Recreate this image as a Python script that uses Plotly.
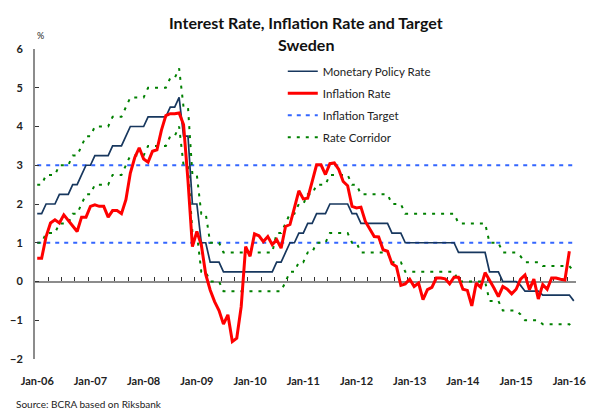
import plotly.graph_objects as go

# ---------------- data (monthly, Jan-2006 onward) ----------------
policy_rate = [
    1.75, 1.75, 2.00, 2.00, 2.00, 2.25, 2.25, 2.25, 2.50, 2.50, 2.75, 3.00,   # 2006
    3.00, 3.25, 3.25, 3.25, 3.25, 3.50, 3.50, 3.50, 3.75, 4.00, 4.00, 4.00,   # 2007
    4.00, 4.25, 4.25, 4.25, 4.25, 4.25, 4.50, 4.50, 4.75, 3.75, 3.75, 2.00,   # 2008
    2.00, 1.00, 1.00, 0.50, 0.50, 0.50, 0.25, 0.25, 0.25, 0.25, 0.25, 0.25,   # 2009
    0.25, 0.25, 0.25, 0.25, 0.25, 0.25, 0.50, 0.50, 0.75, 1.00, 1.00, 1.25,   # 2010
    1.25, 1.50, 1.50, 1.75, 1.75, 1.75, 2.00, 2.00, 2.00, 2.00, 2.00, 1.75,   # 2011
    1.75, 1.50, 1.50, 1.50, 1.50, 1.50, 1.50, 1.50, 1.25, 1.25, 1.25, 1.00,   # 2012
    1.00, 1.00, 1.00, 1.00, 1.00, 1.00, 1.00, 1.00, 1.00, 1.00, 1.00, 0.75,   # 2013
    0.75, 0.75, 0.75, 0.75, 0.75, 0.75, 0.25, 0.25, 0.25, 0.00, 0.00, 0.00,   # 2014
    0.00, -0.10, -0.25, -0.25, -0.25, -0.25, -0.35, -0.35, -0.35, -0.35, -0.35, -0.35,  # 2015
    -0.35, -0.50,                                                             # 2016
]

inflation_rate = [
    0.60, 0.60, 1.16, 1.51, 1.59, 1.51, 1.72, 1.58, 1.46, 1.29, 1.66, 1.66,   # 2006
    1.94, 1.98, 1.94, 1.94, 1.66, 1.83, 1.83, 1.75, 2.11, 2.80, 3.20, 3.45,   # 2007
    3.16, 3.08, 3.36, 3.40, 3.90, 4.28, 4.33, 4.33, 4.35, 4.05, 2.60, 0.90,   # 2008
    1.29, 0.95, 0.18, -0.22, -0.52, -0.75, -1.10, -0.86, -1.55, -1.46, -0.65, 0.90,  # 2009
    0.65, 1.23, 1.18, 1.03, 1.16, 0.95, 1.08, 0.86, 1.42, 1.47, 1.90, 2.34,   # 2010
    2.13, 2.15, 2.58, 3.01, 3.01, 2.76, 3.04, 3.06, 2.89, 2.58, 2.47, 1.94,   # 2011
    1.90, 1.92, 1.55, 1.34, 1.16, 1.15, 0.82, 0.78, 0.46, 0.39, -0.10, -0.06, # 2012
    0.06, -0.13, -0.04, -0.47, -0.21, -0.15, 0.09, 0.09, 0.07, -0.06, 0.11, 0.11,  # 2013
    -0.20, -0.23, -0.63, -0.04, -0.15, 0.23, 0.04, -0.17, -0.39, -0.13, -0.20, -0.32,  # 2014
    -0.20, 0.06, 0.17, -0.21, 0.06, -0.45, -0.08, -0.20, 0.09, 0.09, 0.06, 0.04,  # 2015
    0.78,                                                                     # 2016
]

corridor_upper = [
    2.50, 2.50, 2.75, 2.75, 2.75, 3.00, 3.00, 3.00, 3.25, 3.25, 3.50, 3.75,
    3.75, 4.00, 4.00, 4.00, 4.00, 4.25, 4.25, 4.25, 4.50, 4.75, 4.75, 4.75,
    4.75, 5.00, 5.00, 5.00, 5.00, 5.00, 5.25, 5.25, 5.50, 4.50, 4.50, 2.75,
    2.75, 1.75, 1.75, 1.00, 1.00, 1.00, 0.75, 0.75, 0.75, 0.75, 0.75, 0.75,
    0.75, 0.75, 0.75, 0.75, 0.75, 0.75, 1.25, 1.25, 1.50, 1.75, 1.75, 2.00,
    2.00, 2.25, 2.25, 2.50, 2.50, 2.50, 2.75, 2.75, 2.75, 2.75, 2.75, 2.50,
    2.50, 2.25, 2.25, 2.25, 2.25, 2.25, 2.25, 2.25, 2.00, 2.00, 2.00, 1.75,
    1.75, 1.75, 1.75, 1.75, 1.75, 1.75, 1.75, 1.75, 1.75, 1.75, 1.75, 1.50,
    1.50, 1.50, 1.50, 1.50, 1.50, 1.50, 1.00, 1.00, 1.00, 0.75, 0.75, 0.75,
    0.75, 0.65, 0.50, 0.50, 0.50, 0.50, 0.40, 0.40, 0.40, 0.40, 0.40, 0.40,
    0.40, 0.25,
]

corridor_lower = [
    1.00, 1.00, 1.25, 1.25, 1.25, 1.50, 1.50, 1.50, 1.75, 1.75, 2.00, 2.25,
    2.25, 2.50, 2.50, 2.50, 2.50, 2.75, 2.75, 2.75, 3.00, 3.25, 3.25, 3.25,
    3.25, 3.50, 3.50, 3.50, 3.50, 3.50, 3.75, 3.75, 4.00, 3.00, 3.00, 1.25,
    1.25, 0.25, 0.25, 0.00, 0.00, 0.00, -0.25, -0.25, -0.25, -0.25, -0.25, -0.25,
    -0.25, -0.25, -0.25, -0.25, -0.25, -0.25, -0.25, -0.25, 0.00, 0.25, 0.25, 0.50,
    0.50, 0.75, 0.75, 1.00, 1.00, 1.00, 1.25, 1.25, 1.25, 1.25, 1.25, 1.00,
    1.00, 0.75, 0.75, 0.75, 0.75, 0.75, 0.75, 0.75, 0.50, 0.50, 0.50, 0.25,
    0.25, 0.25, 0.25, 0.25, 0.25, 0.25, 0.25, 0.25, 0.25, 0.25, 0.25, 0.00,
    0.00, 0.00, 0.00, 0.00, 0.00, 0.00, -0.50, -0.50, -0.50, -0.75, -0.75, -0.75,
    -0.75, -0.85, -1.00, -1.00, -1.00, -1.00, -1.10, -1.10, -1.10, -1.10, -1.10, -1.10,
    -1.10, -1.25,
]

inflation_target_levels = [3.0, 1.0]   # upper and lower target bounds

year_labels = ["Jan-06", "Jan-07", "Jan-08", "Jan-09", "Jan-10", "Jan-11",
               "Jan-12", "Jan-13", "Jan-14", "Jan-15", "Jan-16"]
y_ticks = [-2, -1, 0, 1, 2, 3, 4, 5, 6]

# ---------------- figure ----------------
months = list(range(len(policy_rate)))
months_infl = months[:len(inflation_rate)]
FONT = "Lato, 'Gill Sans', sans-serif"
xr = [-0.5, len(policy_rate) - 0.5]

fig = go.Figure()

for i, lvl in enumerate(inflation_target_levels):
    fig.add_trace(go.Scatter(
        x=months, y=[lvl] * len(months), mode="lines",
        name="Inflation Target", legendgroup="g3", showlegend=(i == 0),
        line=dict(color="#3366FF", width=2, dash="4px,5px"),
        legendrank=3, hoverinfo="skip"))

fig.add_trace(go.Scatter(
    x=months, y=corridor_upper, mode="lines", name="Rate Corridor",
    legendgroup="g4", legendrank=4,
    line=dict(color="#008000", width=2, dash="3px,6px")))
fig.add_trace(go.Scatter(
    x=months, y=corridor_lower, mode="lines", name="Rate Corridor",
    legendgroup="g4", showlegend=False,
    line=dict(color="#008000", width=2, dash="3px,6px")))

fig.add_trace(go.Scatter(
    x=months, y=policy_rate, mode="lines", name="Monetary Policy Rate",
    legendgroup="g1", legendrank=1,
    line=dict(color="#17375E", width=1.7)))
fig.add_trace(go.Scatter(
    x=months_infl, y=inflation_rate, mode="lines", name="Inflation Rate",
    legendgroup="g2", legendrank=2,
    line=dict(color="#FF0000", width=3)))

# empty trace to activate the zero-line axis
fig.add_trace(go.Scatter(x=[], y=[], xaxis="x2", showlegend=False, hoverinfo="skip"))

fig.update_layout(
    width=596, height=414,
    margin=dict(l=29, r=10, t=49, b=55),
    paper_bgcolor="white", plot_bgcolor="white",
    font=dict(family=FONT, color="#222222"),
    showlegend=True,
    legend=dict(x=0.458, y=0.975, xanchor="left", yanchor="top",
                bgcolor="rgba(0,0,0,0)", font=dict(family=FONT, size=11.5, color="#222222"),
                traceorder="grouped", tracegroupgap=3),
    xaxis=dict(range=xr, tickmode="array", tickvals=[12 * k for k in range(len(year_labels))],
               ticktext=year_labels, showline=False, ticks="", showgrid=False, zeroline=False,
               tickfont=dict(family=FONT, size=11, color="#222222", weight="bold"),
               ticklabelstandoff=14, ticklabeloverflow="allow"),
    xaxis2=dict(range=xr, overlaying="x", anchor="free", position=0.25, side="bottom",
                showline=True, linecolor="#8C8C8C", linewidth=2, layer="below traces",
                ticks="inside", ticklen=4, tickwidth=1, tickcolor="#333333",
                tickmode="array", tickvals=[-0.5 + 3 * k for k in range(len(policy_rate) // 3 + 1)],
                showticklabels=False, showgrid=False, zeroline=False),
    yaxis=dict(range=[-2, 6], tickmode="array", tickvals=y_ticks, showgrid=False,
               zeroline=False, showline=True, linecolor="#8C8C8C", linewidth=2,
               ticks="inside", ticklen=4, tickwidth=1, tickcolor="#333333",
               tickfont=dict(family=FONT, size=11, color="#222222", weight="bold"),
               ticklabelstandoff=8),
)

fig.add_annotation(text="Interest Rate, Inflation Rate and Target", xref="paper", yref="paper",
                   x=0.5, y=1.084, xanchor="center", yanchor="middle", showarrow=False,
                   font=dict(family=FONT, size=16, color="#111111", weight="bold"))
fig.add_annotation(text="Sweden", xref="paper", yref="paper",
                   x=0.5, y=1.016, xanchor="center", yanchor="middle", showarrow=False,
                   font=dict(family=FONT, size=16, color="#111111", weight="bold"))
fig.add_annotation(text="%", xref="paper", yref="paper", x=0.0, y=1.042,
                   xanchor="left", yanchor="middle", showarrow=False,
                   font=dict(family=FONT, size=9, color="#222222"))
fig.add_annotation(text="Source: BCRA based on Riksbank", xref="paper", yref="paper",
                   x=-0.038, y=-0.171, xanchor="left", yanchor="bottom", showarrow=False,
                   font=dict(family=FONT, size=10, color="#222222"))

fig.write_html("out.html", config={"displayModeBar": False},
               post_script="document.body.style.margin='0px';")
